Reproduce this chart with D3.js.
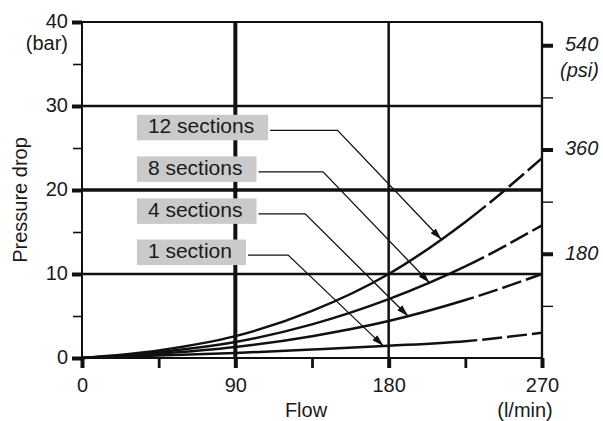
<!DOCTYPE html>
<html>
<head>
<meta charset="utf-8">
<script src="https://cdn.jsdelivr.net/npm/d3@7"></script>
<style>
  body { margin: 0; background: #fff; }
  text { font-family: "Liberation Sans", Arial, sans-serif; fill: #1a1a1a; }
</style>
</head>
<body>
<div id="chart"></div>
<script>
// Chart data
var flow = [0, 45, 90, 135, 180, 225, 270];           // l/min
var p12 = [0, 0.9, 2.6, 5.6, 10.0, 16.2, 23.8];       // bar
var p8 = [0, 0.7, 1.9, 4.0, 7.0, 10.9, 15.8];
var p4 = [0, 0.5, 1.3, 2.6, 4.4, 6.9, 10.0];
var p1 = [0, 0.3, 0.6, 1.0, 1.45, 2.0, 3.0];
var seriesNames = ["12 sections", "8 sections", "4 sections", "1 section"];
var seriesValues = [p12, p8, p4, p1];
var solidUntil = [237, 236, 230, 232];                // flow where the line turns dashed

var barTicks = [0, 10, 20, 30, 40];
var barMinor = [5, 15, 25, 35];
var flowTicks = [0, 90, 180, 270];
var flowMinor = [45, 135, 225];
var psiTicks = [180, 360, 540];
var psiMinor = [90, 270, 450];

// Label callouts, in data units
var labelBaseline = [26.75, 21.8, 16.8, 11.9];
var labelStart = 38.7;
var bendFlow = [150, 141.5, 131, 121];
var tipFlow = [211, 204, 191.5, 177];

var svgWidth = 603;
var svgHeight = 421;

var svg = d3.select("#chart")
  .append("svg")
  .attr("width", svgWidth)
  .attr("height", svgHeight);

var x = d3.scaleLinear().domain([0, 270]).range([82, 542]);
var y = d3.scaleLinear().domain([0, 40]).range([358, 22]);
var yPsi = d3.scaleLinear().domain([0, 40 * 14.5038]).range([358, 22]);

// Grid
var hGrid = [{v: 0, w: 2}, {v: 10, w: 2.3}, {v: 20, w: 3.5}, {v: 30, w: 2.3}, {v: 40, w: 2}];
var vGrid = [{v: 0, w: 2}, {v: 90, w: 4}, {v: 180, w: 2.5}, {v: 270, w: 2.3}];

svg.selectAll(".hgrid")
  .data(hGrid)
  .enter()
  .append("line")
  .attr("x1", x(0)).attr("x2", x(270))
  .attr("y1", d => y(d.v)).attr("y2", d => y(d.v))
  .attr("stroke", "#111")
  .attr("stroke-width", d => d.w);

svg.selectAll(".vgrid")
  .data(vGrid)
  .enter()
  .append("line")
  .attr("x1", d => x(d.v)).attr("x2", d => x(d.v))
  .attr("y1", y(0)).attr("y2", y(40))
  .attr("stroke", "#111")
  .attr("stroke-width", d => d.w);

function styleAxis(g, width) {
  g.select(".domain").remove();
  g.selectAll(".tick line").attr("stroke", "#111").attr("stroke-width", width);
  g.selectAll(".tick text")
    .style("font-family", "'Liberation Sans', Arial, sans-serif")
    .style("font-size", "20px")
    .attr("fill", "#1a1a1a");
}

// Left axis (bar)
svg.append("g")
  .attr("transform", `translate(${x(0)},0)`)
  .call(d3.axisLeft(y).tickValues(barTicks).tickSize(10).tickPadding(4))
  .call(g => styleAxis(g, 4))
  .call(g => g.selectAll(".tick text").attr("dy", "0.27em"));

svg.append("g")
  .attr("transform", `translate(${x(0)},0)`)
  .call(d3.axisLeft(y).tickValues(barMinor).tickSize(9).tickFormat(""))
  .call(g => styleAxis(g, 1.6));

// Bottom axis (flow)
svg.append("g")
  .attr("transform", `translate(0,${y(0)})`)
  .call(d3.axisBottom(x).tickValues(flowTicks).tickSize(10).tickPadding(10))
  .call(g => styleAxis(g, 4));

svg.append("g")
  .attr("transform", `translate(0,${y(0)})`)
  .call(d3.axisBottom(x).tickValues(flowMinor).tickSize(10).tickFormat(""))
  .call(g => styleAxis(g, 2.8));

// Right axis (psi)
svg.append("g")
  .attr("transform", `translate(${x(270)},0)`)
  .call(d3.axisRight(yPsi).tickValues(psiTicks).tickSize(11).tickPadding(12))
  .call(g => styleAxis(g, 4))
  .call(g => g.selectAll(".tick text").attr("dy", "0.27em").style("font-style", "italic"));

svg.append("g")
  .attr("transform", `translate(${x(270)},0)`)
  .call(d3.axisRight(yPsi).tickValues(psiMinor).tickSize(11).tickFormat(""))
  .call(g => styleAxis(g, 1.4));

// Axis titles and units
svg.append("text")
  .attr("x", 68).attr("y", 49.5)
  .attr("text-anchor", "end")
  .style("font-size", "20px")
  .text("(bar)");

svg.append("text")
  .attr("x", 560).attr("y", 77)
  .style("font-size", "20px")
  .style("font-style", "italic")
  .text("(psi)");

svg.append("text")
  .attr("x", 306).attr("y", 417)
  .attr("text-anchor", "middle")
  .style("font-size", "20px")
  .text("Flow");

svg.append("text")
  .attr("x", 525).attr("y", 417)
  .attr("text-anchor", "middle")
  .style("font-size", "20px")
  .text("(l/min)");

svg.append("text")
  .attr("transform", "translate(27,200) rotate(-90)")
  .attr("text-anchor", "middle")
  .style("font-size", "20px")
  .text("Pressure drop");

// Curves
var line = d3.line()
  .x(d => x(d.flow))
  .y(d => y(d.p))
  .curve(d3.curveMonotoneX);

function lengthAtX(node, px) {
  var lo = 0, hi = node.getTotalLength();
  for (var i = 0; i < 40; i++) {
    var mid = (lo + hi) / 2;
    if (node.getPointAtLength(mid).x < px) lo = mid; else hi = mid;
  }
  return (lo + hi) / 2;
}

var curveNodes = [];
seriesValues.forEach(function(vals, i) {
  var pts = flow.map((f, j) => ({flow: f, p: vals[j]}));
  var path = svg.append("path")
    .datum(pts)
    .attr("d", line)
    .attr("fill", "none")
    .attr("stroke", "#111")
    .attr("stroke-width", 2.5);
  var node = path.node();
  var total = node.getTotalLength();
  var l0 = lengthAtX(node, x(solidUntil[i]));
  var dash = [l0];
  var sum = l0;
  while (sum < total) { dash.push(5, 20); sum += 25; }
  dash.push(100);
  path.attr("stroke-dasharray", dash.join(","));
  curveNodes.push(node);
});

// Arrowhead
svg.append("defs").append("marker")
  .attr("id", "arrow")
  .attr("markerUnits", "userSpaceOnUse")
  .attr("viewBox", "0 -4 12 8")
  .attr("refX", 12).attr("refY", 0)
  .attr("markerWidth", 12).attr("markerHeight", 8)
  .attr("orient", "auto")
  .append("path")
  .attr("d", "M0,-3.5L12,0L0,3.5Z")
  .attr("fill", "#111");

// Labels with callouts
seriesNames.forEach(function(name, i) {
  var base = y(labelBaseline[i]);
  var tx = x(labelStart);
  var g = svg.append("g");
  var box = g.append("rect").attr("fill", "#cacaca");
  var t = g.append("text")
    .attr("x", tx).attr("y", base)
    .style("font-size", "21px")
    .text(name);
  var bb = t.node().getBBox();
  var right = bb.x + bb.width + 14;
  box.attr("x", tx - 11).attr("y", base - 18.5)
    .attr("width", right - (tx - 11)).attr("height", 25.5);

  var node = curveNodes[i];
  var tip = node.getPointAtLength(lengthAtX(node, x(tipFlow[i])));
  var ly = base - 3;
  svg.append("path")
    .attr("d", `M${right + 2},${ly}L${x(bendFlow[i])},${ly}L${tip.x},${tip.y}`)
    .attr("fill", "none")
    .attr("stroke", "#111")
    .attr("stroke-width", 1.3)
    .attr("marker-end", "url(#arrow)");
});
</script>
</body>
</html>
